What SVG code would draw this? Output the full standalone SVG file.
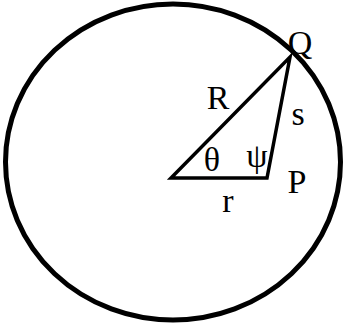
<svg xmlns="http://www.w3.org/2000/svg" width="344" height="324" viewBox="0 0 344 324">
<style>
.ln{fill:none;stroke:#000;stroke-width:3.5;stroke-linejoin:miter}
.t{font-family:'Liberation Serif','Times New Roman',serif;font-size:34px;fill:#000;text-anchor:middle}
</style>
<rect width="344" height="324" fill="#fff"/>
<g id="circle">
<ellipse cx="173" cy="162" rx="167.5" ry="158" fill="none" stroke="#000" stroke-width="5"/>
</g>
<g id="connectors">
<path class="ln" d="M171,178 L267,178 L290,57 Z"/>
</g>
<g id="labels">
<text class="t" x="300" y="54">Q</text>
<text class="t" x="218" y="109">R</text>
<text class="t" x="298" y="125">s</text>
<text class="t" x="212" y="171">θ</text>
<text class="t" x="257" y="167">ψ</text>
<text class="t" x="297" y="193">P</text>
<text class="t" x="228" y="212">r</text>
</g>
</svg>
